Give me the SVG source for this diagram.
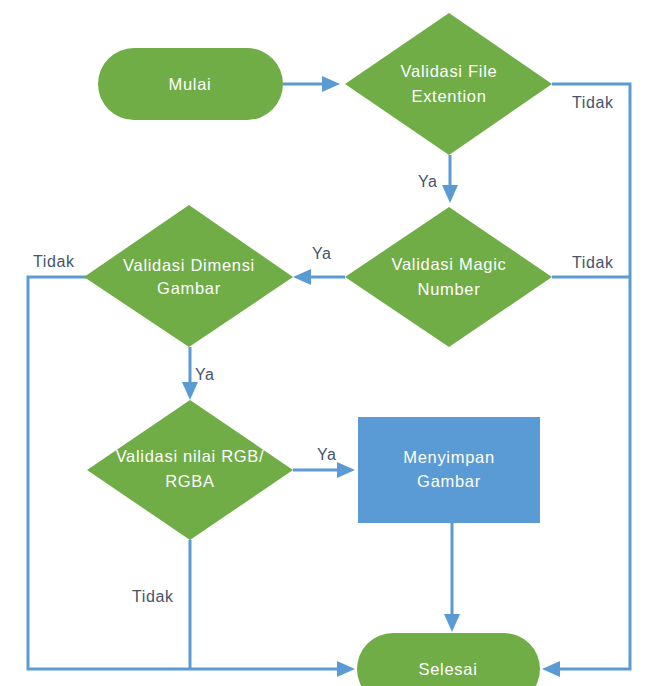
<svg xmlns="http://www.w3.org/2000/svg" width="647" height="686" viewBox="0 0 647 686">
<style>
.green{fill:#70AD47;}
.blue{fill:#5B9BD5;}
.t{font-family:"Liberation Sans",Arial,sans-serif;font-size:16.5px;fill:#ffffff;text-anchor:middle;letter-spacing:0.7px;}
.lbl{font-family:"Liberation Sans",Arial,sans-serif;font-size:16px;fill:#44546A;letter-spacing:0.6px;}
.c{fill:none;stroke:#5B9BD5;stroke-width:3;}
</style>
<defs>
<marker id="ah" markerUnits="userSpaceOnUse" markerWidth="18" markerHeight="16" refX="0" refY="8" orient="auto">
<path d="M0,0 L18,8 L0,16 z" fill="#5B9BD5"/>
</marker>
</defs>
<rect width="647" height="686" fill="#ffffff"/>
<g id="connectors">
<path class="c" d="M283,84 H322" marker-end="url(#ah)"/>
<path class="c" d="M450,155 V185" marker-end="url(#ah)"/>
<path class="c" d="M345,277 H311" marker-end="url(#ah)"/>
<path class="c" d="M190,347 V382" marker-end="url(#ah)"/>
<path class="c" d="M293,470 H337" marker-end="url(#ah)"/>
<path class="c" d="M452,523 V614" marker-end="url(#ah)"/>
<path class="c" d="M552,84 H630 V669 H560" marker-end="url(#ah)"/>
<path class="c" d="M552,277 H630"/>
<path class="c" d="M87,277 H28 V669 H337" marker-end="url(#ah)"/>
<path class="c" d="M190,540 V669"/>
<text class="lbl" x="418" y="187">Ya</text>
<text class="lbl" x="312" y="259">Ya</text>
<text class="lbl" x="195" y="380">Ya</text>
<text class="lbl" x="317" y="460">Ya</text>
<text class="lbl" x="572" y="108">Tidak</text>
<text class="lbl" x="572" y="268">Tidak</text>
<text class="lbl" x="33" y="267">Tidak</text>
<text class="lbl" x="132" y="602">Tidak</text>
</g>
<g id="mulai">
<rect class="green" x="98" y="48" width="185" height="72" rx="36" ry="36"/>
<text class="t" x="190" y="90">Mulai</text>
</g>
<g id="validasi-file">
<polygon class="green" points="449,13 552,84 449,155 345,84"/>
<text class="t" x="449" y="77">Validasi File</text>
<text class="t" x="449" y="102">Extention</text>
</g>
<g id="validasi-magic">
<polygon class="green" points="449,207 552,277 449,347 345,277"/>
<text class="t" x="449" y="270">Validasi Magic</text>
<text class="t" x="449" y="295">Number</text>
</g>
<g id="validasi-dimensi">
<polygon class="green" points="189,205 293,277 189,347 84,277"/>
<text class="t" x="189" y="271">Validasi Dimensi</text>
<text class="t" x="189" y="294">Gambar</text>
</g>
<g id="validasi-rgb">
<polygon class="green" points="190,400 293,470 190,540 87,470"/>
<text class="t" x="190" y="462">Validasi nilai RGB/</text>
<text class="t" x="190" y="487">RGBA</text>
</g>
<g id="menyimpan">
<rect class="blue" x="358" y="417" width="182" height="106"/>
<text class="t" x="449" y="463">Menyimpan</text>
<text class="t" x="449" y="487">Gambar</text>
</g>
<g id="selesai">
<rect class="green" x="357" y="633" width="183" height="72" rx="36" ry="36"/>
<text class="t" x="448" y="675">Selesai</text>
</g>
</svg>
